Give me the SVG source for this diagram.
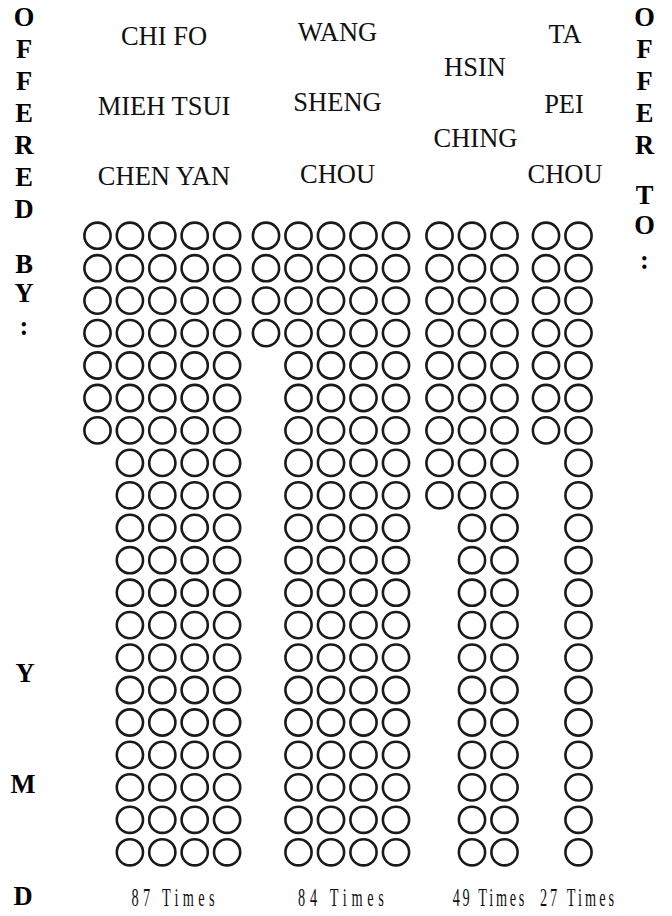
<svg xmlns="http://www.w3.org/2000/svg" width="672" height="916" viewBox="0 0 672 916">
<style>
  .o { fill: none; stroke: #1a1a1a; stroke-width: 2.6; }
  .name { font-family: "Liberation Serif", "Times New Roman", serif; font-size: 26.5px; fill: #111; text-anchor: middle; }
  .side { font-family: "Liberation Serif", "Times New Roman", serif; font-size: 26.5px; font-weight: bold; fill: #000; text-anchor: middle; }
  .cnt { font-family: "Liberation Serif", "Times New Roman", serif; font-size: 26px; fill: #111; text-anchor: middle; }
</style>
<defs>
  <g id="c4">
    <circle class="o" cx="0" cy="235.7" r="13.1"/>
    <circle class="o" cx="0" cy="268.2" r="13.1"/>
    <circle class="o" cx="0" cy="300.6" r="13.1"/>
    <circle class="o" cx="0" cy="333.1" r="13.1"/>
  </g>
  <g id="c7">
    <use href="#c4"/>
    <circle class="o" cx="0" cy="365.5" r="13.1"/>
    <circle class="o" cx="0" cy="398" r="13.1"/>
    <circle class="o" cx="0" cy="430.4" r="13.1"/>
  </g>
  <g id="c9">
    <use href="#c7"/>
    <circle class="o" cx="0" cy="462.9" r="13.1"/>
    <circle class="o" cx="0" cy="495.3" r="13.1"/>
  </g>
  <g id="c20">
    <use href="#c9"/>
    <circle class="o" cx="0" cy="527.8" r="13.1"/>
    <circle class="o" cx="0" cy="560.2" r="13.1"/>
    <circle class="o" cx="0" cy="592.7" r="13.1"/>
    <circle class="o" cx="0" cy="625.1" r="13.1"/>
    <circle class="o" cx="0" cy="657.6" r="13.1"/>
    <circle class="o" cx="0" cy="690" r="13.1"/>
    <circle class="o" cx="0" cy="722.5" r="13.1"/>
    <circle class="o" cx="0" cy="754.9" r="13.1"/>
    <circle class="o" cx="0" cy="787.4" r="13.1"/>
    <circle class="o" cx="0" cy="819.8" r="13.1"/>
    <circle class="o" cx="0" cy="852.3" r="13.1"/>
  </g>
</defs>

<g id="offered-by-label">
  <text class="side" x="24" y="26">O</text>
  <text class="side" x="24" y="58">F</text>
  <text class="side" x="24" y="90">F</text>
  <text class="side" x="24" y="122">E</text>
  <text class="side" x="24" y="154">R</text>
  <text class="side" x="24" y="186">E</text>
  <text class="side" x="24" y="218">D</text>
  <text class="side" x="24" y="273">B</text>
  <text class="side" x="24" y="302">Y</text>
  <text class="side" x="24" y="335">:</text>
</g>

<g id="date-label">
  <text class="side" x="25" y="682">Y</text>
  <text class="side" x="23" y="793">M</text>
  <text class="side" x="23" y="905">D</text>
</g>

<g id="offer-to-label">
  <text class="side" x="644.5" y="26">O</text>
  <text class="side" x="644.5" y="58">F</text>
  <text class="side" x="644.5" y="90">F</text>
  <text class="side" x="644.5" y="122">E</text>
  <text class="side" x="644.5" y="154">R</text>
  <text class="side" x="644.5" y="204">T</text>
  <text class="side" x="644.5" y="234">O</text>
  <text class="side" x="644.5" y="269">:</text>
</g>

<g id="chi-fo">
  <text class="name" x="164" y="45">CHI FO</text>
  <text class="name" x="164" y="115">MIEH TSUI</text>
  <text class="name" x="164" y="185">CHEN YAN</text>
  <use href="#c7" x="97.5"/>
  <use href="#c20" x="129.9"/>
  <use href="#c20" x="162.3"/>
  <use href="#c20" x="194.7"/>
  <use href="#c20" x="227.1"/>
  <g transform="translate(173,906) scale(0.55,1)">
    <text class="cnt" x="0" y="0" textLength="151" lengthAdjust="spacing">87 Times</text>
  </g>
</g>

<g id="wang-sheng">
  <text class="name" x="337.5" y="40.5">WANG</text>
  <text class="name" x="337.5" y="111">SHENG</text>
  <text class="name" x="337.5" y="183">CHOU</text>
  <use href="#c4" x="266"/>
  <use href="#c20" x="298.5"/>
  <use href="#c20" x="331"/>
  <use href="#c20" x="363.5"/>
  <use href="#c20" x="396"/>
  <g transform="translate(341,906) scale(0.55,1)">
    <text class="cnt" x="0" y="0" textLength="156" lengthAdjust="spacing">84 Times</text>
  </g>
</g>

<g id="hsin-ching">
  <text class="name" x="475" y="76">HSIN</text>
  <text class="name" x="475.5" y="147">CHING</text>
  <use href="#c9" x="439.5"/>
  <use href="#c20" x="472"/>
  <use href="#c20" x="504.5"/>
  <g transform="translate(488.5,906) scale(0.55,1)">
    <text class="cnt" x="0" y="0" textLength="130" lengthAdjust="spacing">49 Times</text>
  </g>
</g>

<g id="ta-pei">
  <text class="name" x="565" y="42.5">TA</text>
  <text class="name" x="564" y="112.5">PEI</text>
  <text class="name" x="565" y="183">CHOU</text>
  <use href="#c7" x="546"/>
  <use href="#c20" x="578.5"/>
  <g transform="translate(577,906) scale(0.55,1)">
    <text class="cnt" x="0" y="0" textLength="135" lengthAdjust="spacing">27 Times</text>
  </g>
</g>
</svg>
